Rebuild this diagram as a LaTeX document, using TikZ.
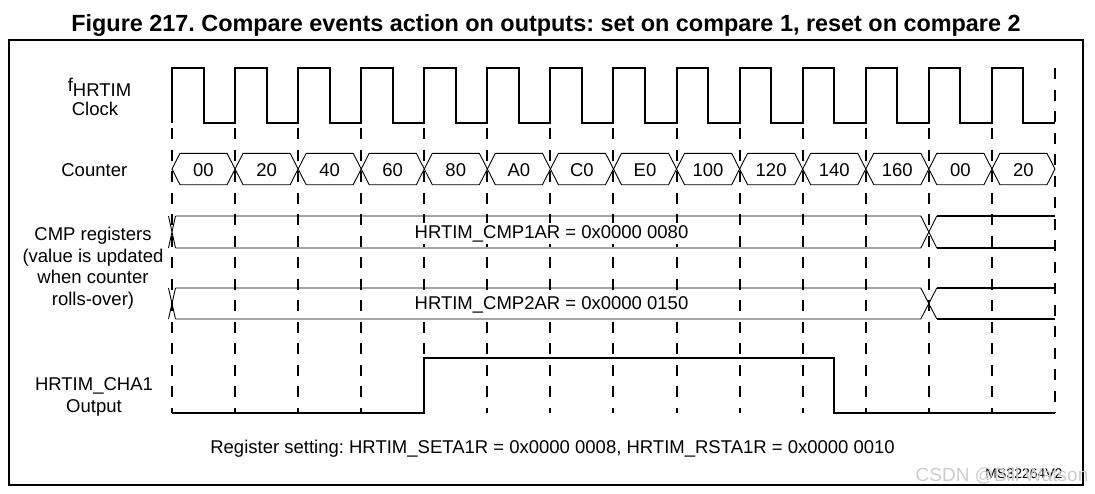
\documentclass[tikz,border=0pt]{standalone}
\usepackage{fontspec}
\setmainfont{Liberation Sans}
\usetikzlibrary{positioning}
\frenchspacing

\begin{document}
\begin{tikzpicture}[x=1pt,y=-1pt,
    every node/.style={font=\fontsize{18.5}{21.6}\selectfont,inner sep=0pt},
    wave/.style={line width=2pt},
    bus/.style={line width=0.9pt},
    tick/.style={line width=2pt,dash pattern=on 11pt off 10.5pt}]
    \useasboundingbox(0,0)rectangle(1095,493);

    % frame and title
    \draw[line width=2pt](8.5,40)rectangle(1082.7,485);
    \node(title)[anchor=base,font=\fontsize{23.4}{28}\selectfont\bfseries]at(546,31.5)
        {Figure 217. Compare events action on outputs: set on compare 1, reset on compare 2};

    % time grid
    \foreach \i in {0,...,13}
        \draw[tick]({172+63.07*\i},128)--({172+63.07*\i},413.3);
    \draw[tick](1055,68.3)--(1055,413.3);

    % clock
    \node(fclk)[anchor=base]at(99.5,96.7){\raisebox{5.5pt}{f}HRTIM};
    \node(clk)[anchor=base]at(95,115){Clock};
    \draw[wave](172,123.3)foreach \i in {0,...,13}{--++(0,-55)--++(31.5,0)--++(0,55)--++(31.57,0)};

    % counter
    \node(cnt)[anchor=base]at(94.3,176){Counter};
    \foreach \val[count=\i from 0] in {00,20,40,60,80,A0,C0,E0,100,120,140,160,00,20}
    {\draw[bus]({172+63.07*\i},169)--++(8,-15.7)--++(47.07,0)--++(8,15.7)--++(-8,15.7)--++(-47.07,0)--cycle;
    \node(v\i)[anchor=base]at({203.5+63.07*\i},176){\val};}

    % compare registers
    \node(cmp)[align=center]at(93,268.4){CMP registers\\(value is updated\\when counter\\rolls-over)};
    \foreach \ytop/\ybot/\idx/\val in {216/248/1/0080,288/319/2/0150}
    {\draw[bus](168.5,\ytop)--(175.5,\ybot) (168.5,\ybot)--(175.5,\ytop);
    \draw[bus](175.5,\ytop)--(920.8,\ytop)--(936.8,\ybot) (175.5,\ybot)--(920.8,\ybot)--(936.8,\ytop);
    \draw[line width=1.8pt](936.8,\ytop)--(1055,\ytop) (936.8,\ybot)--(1055,\ybot);
    \node(cmp\idx)[anchor=base,fill=white,inner xsep=3pt,inner ysep=2pt]at(551.5,\ybot-9.8)
        {HRTIM\_CMP\idx AR = 0x0000 \val};}

    % output
    \node(out)[align=center]at(94,396.7){HRTIM\_CHA1\\Output};
    \draw[wave](172,413.3)-|(424.3,357.7)-|(834.2,413.3)--(1055,413.3);

    % register setting
    \node(reg)[anchor=base]at(552.6,453.8)
        {Register setting: HRTIM\_SETA1R = 0x0000 0008, HRTIM\_RSTA1R = 0x0000 0010};
    \node(ms)[anchor=base,font=\fontsize{14}{14}\selectfont]at(1024,478){MS32264V2};
    \node(wm)[anchor=base,text=gray!40,font=\fontsize{19}{19}\selectfont]at(1002,481.5){CSDN @Bill Watson};
\end{tikzpicture}
\end{document}
